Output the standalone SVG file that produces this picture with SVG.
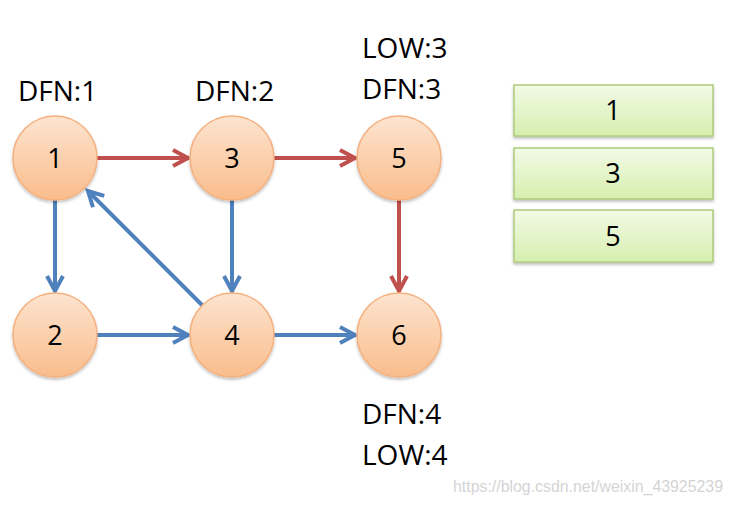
<svg xmlns="http://www.w3.org/2000/svg" width="734" height="505" viewBox="0 0 734 505">
<defs>
<style>
.lbl{font-family:"Open Sans","Liberation Sans",sans-serif;font-size:28px;fill:#000;}
.num{font-family:"Open Sans","Liberation Sans",sans-serif;font-size:27px;fill:#000;text-anchor:middle;}
.node circle{fill:url(#og);stroke:#F5B07E;stroke-width:1.5;filter:url(#sh);}
.box rect{fill:url(#gg);stroke:#ADCB7A;stroke-width:1.5;filter:url(#sh);}
.red{stroke:#C0504D;stroke-width:4;fill:none;marker-end:url(#ar);}
.blue{stroke:#4F81BD;stroke-width:4;fill:none;marker-end:url(#ab);}
.wm{font-family:"Liberation Sans",Arial,sans-serif;font-size:16px;fill:#D4D4D4;}
</style>
<linearGradient id="og" x1="0" y1="0" x2="0" y2="1">
<stop offset="0" stop-color="#FDE4D0"/>
<stop offset="1" stop-color="#FABD8C"/>
</linearGradient>
<linearGradient id="gg" x1="0" y1="0" x2="0" y2="1">
<stop offset="0" stop-color="#F2FAE6"/>
<stop offset="1" stop-color="#D6EFAF"/>
</linearGradient>
<filter id="sh" x="-20%" y="-20%" width="140%" height="150%">
<feDropShadow dx="0" dy="2" stdDeviation="1.5" flood-color="#000" flood-opacity="0.25"/>
</filter>
<marker id="ar" markerUnits="userSpaceOnUse" viewBox="-20 -12 24 24" refX="0" refY="0" markerWidth="24" markerHeight="24" orient="auto" overflow="visible">
<path d="M-15,-8 L0,0 L-15,8" fill="none" stroke="#C0504D" stroke-width="4" stroke-linejoin="miter"/>
</marker>
<marker id="ab" markerUnits="userSpaceOnUse" viewBox="-20 -12 24 24" refX="0" refY="0" markerWidth="24" markerHeight="24" orient="auto" overflow="visible">
<path d="M-15,-8 L0,0 L-15,8" fill="none" stroke="#4F81BD" stroke-width="4" stroke-linejoin="miter"/>
</marker>
</defs>
<rect width="734" height="505" fill="#fff"/>
<g id="connectors">
<line class="red" x1="97" y1="158" x2="188" y2="158"/>
<line class="red" x1="274" y1="158" x2="355" y2="158"/>
<line class="red" x1="399" y1="200" x2="399" y2="291"/>
<line class="blue" x1="55" y1="200" x2="55" y2="291"/>
<line class="blue" x1="232" y1="200" x2="232" y2="291"/>
<line class="blue" x1="97" y1="335" x2="188" y2="335"/>
<line class="blue" x1="274" y1="335" x2="355" y2="335"/>
<line class="blue" x1="203" y1="306" x2="88" y2="191"/>
</g>
<g id="node1" class="node"><circle cx="55" cy="158" r="42"/><text class="num" x="55" y="168">1</text></g>
<g id="node3" class="node"><circle cx="232" cy="158" r="42"/><text class="num" x="232" y="168">3</text></g>
<g id="node5" class="node"><circle cx="399" cy="158" r="42"/><text class="num" x="399" y="168">5</text></g>
<g id="node2" class="node"><circle cx="55" cy="335" r="42"/><text class="num" x="55" y="345">2</text></g>
<g id="node4" class="node"><circle cx="232" cy="335" r="42"/><text class="num" x="232" y="345">4</text></g>
<g id="node6" class="node"><circle cx="399" cy="335" r="42"/><text class="num" x="399" y="345">6</text></g>
<g id="labels">
<text class="lbl" x="18" y="101">DFN:1</text>
<text class="lbl" x="195" y="101">DFN:2</text>
<text class="lbl" x="362" y="58">LOW:3</text>
<text class="lbl" x="362" y="99">DFN:3</text>
<text class="lbl" x="362" y="424">DFN:4</text>
<text class="lbl" x="362" y="465">LOW:4</text>
</g>
<g id="stack1" class="box"><rect x="514" y="85" width="199" height="51"/><text class="num" x="613" y="120">1</text></g>
<g id="stack3" class="box"><rect x="514" y="148" width="199" height="51"/><text class="num" x="613" y="183">3</text></g>
<g id="stack5" class="box"><rect x="514" y="210" width="199" height="52"/><text class="num" x="613" y="246">5</text></g>
<text class="wm" x="453" y="492" textLength="270" lengthAdjust="spacingAndGlyphs">https://blog.csdn.net/weixin_43925239</text>
</svg>
